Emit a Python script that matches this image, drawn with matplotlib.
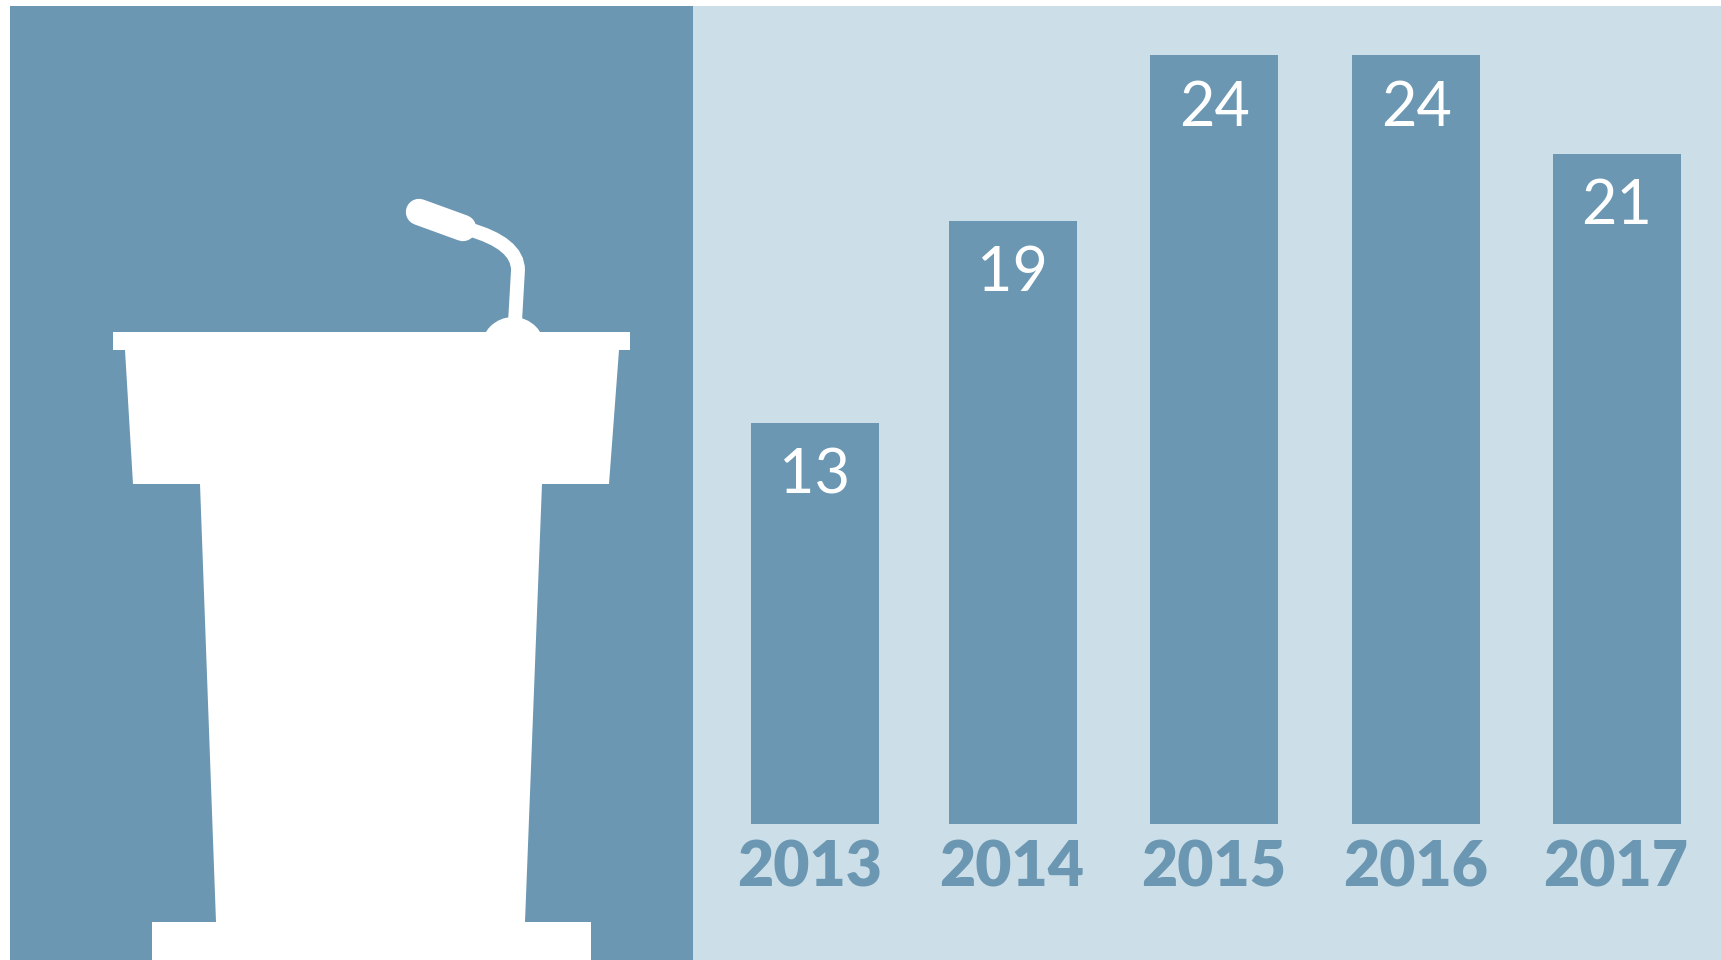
import matplotlib
matplotlib.use("Agg")
import matplotlib.pyplot as plt
import numpy as np
from matplotlib.patches import Circle, PathPatch, Polygon, Rectangle
from matplotlib.path import Path

years = ["2013", "2014", "2015", "2016", "2017"]
value_labels = ["13", "19", "24", "24", "21"]
# bar heights as drawn in the picture, they are not quite to scale with the labels
bar_heights = [12.53, 18.83, 24.0, 24.0, 20.92]

DARK = "#6b97b2"
LIGHT = "#ccdfe9"
W, H = 1721, 960

fig = plt.figure(figsize=(W / 100, H / 100), dpi=100, facecolor="white")

# background panels and podium, in pixel coordinates
bg = fig.add_axes([0, 0, 1, 1])
bg.set_xlim(0, W)
bg.set_ylim(H, 0)
bg.axis("off")
bg.add_patch(Rectangle((10, 6), 683, H - 6, fc=DARK, ec="none"))
bg.add_patch(Rectangle((693, 6), W - 693, H - 6, fc=LIGHT, ec="none"))

podium = [
    (113, 332), (630, 332), (630, 350), (619, 350), (609, 484), (542, 484),
    (525, 922), (591, 922), (591, 960), (152, 960), (152, 922), (216, 922),
    (200, 484), (133, 484), (125, 350), (113, 350),
]
bg.add_patch(Polygon(podium, closed=True, fc="white", ec="none"))
bg.add_patch(Circle((513, 349), 32, fc="white", ec="none"))

stem = Path(
    [(515, 322), (518, 270), (518, 243), (468, 229)],
    [Path.MOVETO, Path.LINETO, Path.CURVE3, Path.CURVE3],
)
bg.add_patch(PathPatch(stem, fc="none", ec="white", lw=10, capstyle="butt"))
bg.plot([419, 463], [212, 228], color="white", lw=19, solid_capstyle="round")

# bars
x0, step = 814.5, 200.6
base, unit = 824, 32.04
ax = fig.add_axes([693 / W, (H - base) / H, (W - 693) / W, (base - 6) / H])
ax.patch.set_alpha(0)
ax.set_xlim((693 - x0) / step, (W - x0) / step)
ax.set_ylim(0, (base - 6) / unit)

# the bars in the picture are not quite evenly spaced
positions = np.arange(len(years)) + np.array([0, -2.2, -1.5, 0, 0]) / step
ax.bar(positions, bar_heights, width=128 / step, color=DARK)

for pos, height, label in zip(positions, bar_heights, value_labels):
    ax.annotate(label, (pos, height), xytext=(0, -53 * 0.72), textcoords="offset points",
                ha="center", va="center", color="white", fontsize=44, family="Lato")

ax.set_xticks(positions + np.array([-4.5, -1.5, -1, -1, -1]) / step)
ax.set_xticklabels(years, fontsize=45, fontweight="heavy", family="Lato", color=DARK)
ax.set_yticks([])
ax.tick_params(axis="x", length=0, pad=11)
for spine in ax.spines.values():
    spine.set_visible(False)

fig.savefig("out.png", dpi=100)
